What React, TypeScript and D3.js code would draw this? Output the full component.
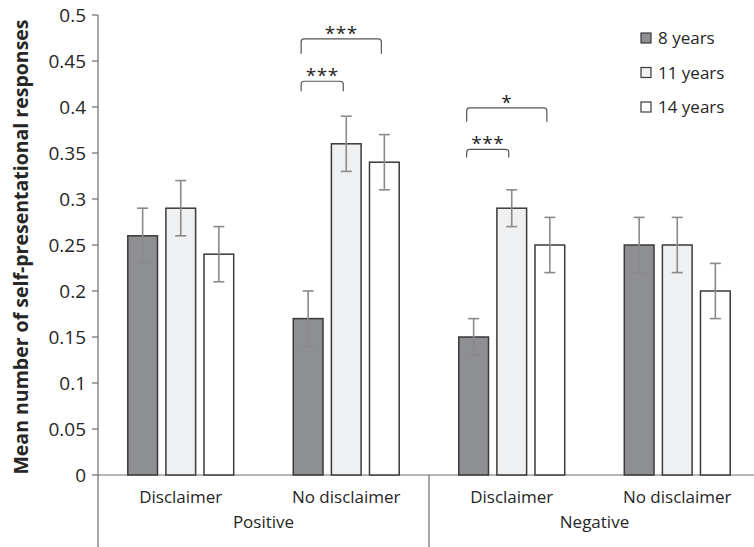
import React from "react";
import * as d3 from "d3";

const groups = ["Positive", "Negative"];
const categories = ["Disclaimer", "No disclaimer", "Disclaimer", "No disclaimer"];
const seriesNames = ["8 years", "11 years", "14 years"];
const means8 = [0.26, 0.17, 0.15, 0.25];
const means11 = [0.29, 0.36, 0.29, 0.25];
const means14 = [0.24, 0.34, 0.25, 0.2];
const err8 = [0.03, 0.03, 0.02, 0.03];
const err11 = [0.03, 0.03, 0.02, 0.03];
const err14 = [0.03, 0.03, 0.03, 0.03];
const yTicks = [0, 0.05, 0.1, 0.15, 0.2, 0.25, 0.3, 0.35, 0.4, 0.45, 0.5];
// significance brackets: category, from series, to series, label, bracket top value, leg bottom value
const sigCategory = [1, 1, 2, 2];
const sigFrom = [0, 0, 0, 0];
const sigTo = [2, 1, 2, 1];
const sigLabel = ["***", "***", "*", "***"];
const sigTop = [0.474, 0.428, 0.399, 0.354];
const sigBottom = [0.458, 0.417, 0.384, 0.345];

const W = 754;
const H = 547;
const left = 98;
const right = 760;
const top = 15;
const bottom = 475;
const fills = ["#8e8f92", "#eff0f2", "#ffffff"];
const font = "'Open Sans', sans-serif";

export default function App() {
  const means = [means8, means11, means14];
  const errs = [err8, err11, err14];
  const y = d3.scaleLinear().domain([0, 0.5]).range([bottom, top]);
  const x0 = d3.scaleBand<number>().domain(categories.map((_, i) => i)).range([left, right]).paddingInner(0.36).paddingOuter(0.18);
  const x1 = d3.scaleBand<number>().domain([0, 1, 2]).range([0, x0.bandwidth()]).paddingInner(0.22);
  const bw = x1.bandwidth();
  const barCenter = (c: number, s: number) => (x0(c) as number) + (x1(s) as number) + bw / 2;
  const catStep = (right - left) / categories.length;
  const catCenter = (c: number) => left + catStep * (c + 0.5);
  const groupCenter = (g: number) => left + catStep * (g * 2 + 1);
  const axisColor = "#6e6e6e";
  const textColor = "#262626";

  return (
    <svg width={W} height={H} style={{ position: "fixed", left: 0, top: 0, background: "#fff" }} fontFamily={font}>
      {/* y axis */}
      <line x1={left} x2={left} y1={top} y2={H} stroke={axisColor} strokeWidth={1.2} />
      {yTicks.map((t) => (
        <g key={t}>
          <line x1={left - 6} x2={left} y1={y(t)} y2={y(t)} stroke={axisColor} strokeWidth={1.2} />
          <text x={left - 12} y={y(t)} dy="0.36em" textAnchor="end" fontSize={19} fill={textColor}>
            {t}
          </text>
        </g>
      ))}
      {/* x axis */}
      <line x1={left} x2={W} y1={bottom} y2={bottom} stroke={axisColor} strokeWidth={1.2} />
      <line x1={left + catStep * 2} x2={left + catStep * 2} y1={bottom} y2={H} stroke={axisColor} strokeWidth={1.2} />
      {categories.map((c, i) => (
        <text key={i} x={catCenter(i)} y={503} textAnchor="middle" fontSize={17} fill={textColor}>
          {c}
        </text>
      ))}
      {groups.map((g, i) => (
        <text key={g} x={groupCenter(i)} y={528} textAnchor="middle" fontSize={17} fill={textColor}>
          {g}
        </text>
      ))}
      <text
        transform={`translate(28,247) rotate(-90)`}
        textAnchor="middle"
        fontSize={19.5}
        fontWeight="bold"
        fill={textColor}
      >
        Mean number of self-presentational responses
      </text>
      {/* bars */}
      {means.map((vals, s) =>
        vals.map((v, c) => (
          <rect
            key={`${s}-${c}`}
            x={(x0(c) as number) + (x1(s) as number)}
            y={y(v)}
            width={bw}
            height={bottom - y(v)}
            fill={fills[s]}
            stroke="#3a3a3a"
            strokeWidth={1.5}
          />
        ))
      )}
      {/* error bars */}
      {means.map((vals, s) =>
        vals.map((v, c) => {
          const cx = barCenter(c, s);
          const e = errs[s][c];
          return (
            <g key={`e${s}-${c}`} stroke="#8a8a8a" strokeWidth={1.6}>
              <line x1={cx} x2={cx} y1={y(v + e)} y2={y(v - e)} />
              <line x1={cx - 5.5} x2={cx + 5.5} y1={y(v + e)} y2={y(v + e)} />
              <line x1={cx - 5.5} x2={cx + 5.5} y1={y(v - e)} y2={y(v - e)} />
            </g>
          );
        })
      )}
      {/* significance brackets */}
      {sigLabel.map((lab, i) => {
        const xa = barCenter(sigCategory[i], sigFrom[i]) - 7;
        const xb = barCenter(sigCategory[i], sigTo[i]) - 3;
        const yt = y(sigTop[i]);
        const yb = y(sigBottom[i]);
        const r = 3;
        const path = `M${xa},${yb} L${xa},${yt + r} Q${xa},${yt} ${xa + r},${yt} L${xb - r},${yt} Q${xb},${yt} ${xb},${yt + r} L${xb},${yb}`;
        return (
          <g key={`s${i}`}>
            <path d={path} fill="none" stroke="#555" strokeWidth={1.2} />
            <text x={(xa + xb) / 2} y={yt + 1} textAnchor="middle" fontSize={19} fill={textColor} letterSpacing={0.5}>
              {lab}
            </text>
          </g>
        );
      })}
      {/* legend */}
      {seriesNames.map((n, i) => (
        <g key={n} transform={`translate(641,${38 + i * 34.5})`}>
          <rect x={0} y={-5} width={10} height={10} fill={fills[i]} stroke="#3a3a3a" strokeWidth={1.2} />
          <text x={17} y={0} dy="0.36em" fontSize={17} fill={textColor}>
            {n}
          </text>
        </g>
      ))}
    </svg>
  );
}
